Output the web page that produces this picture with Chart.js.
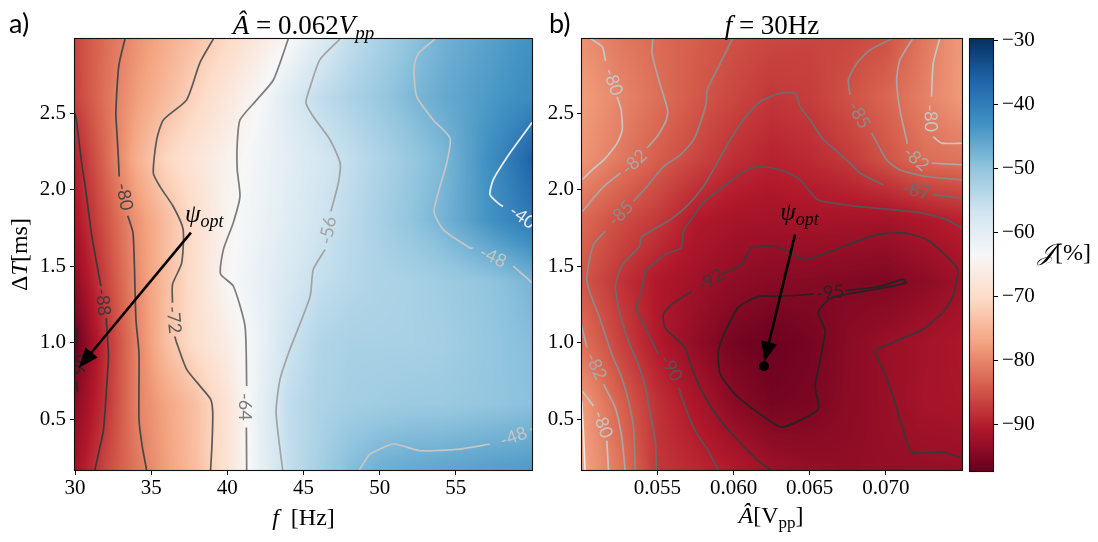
<!DOCTYPE html>
<html><head><meta charset="utf-8">
<script src="https://cdn.jsdelivr.net/npm/chart.js@4.4.1/dist/chart.umd.min.js"></script>
<style>
html,body{margin:0;padding:0;background:#fff;}
#wrap{position:relative;width:1098px;height:542px;overflow:hidden;background:#fff;}
canvas{position:absolute;top:0;}
#cL{left:0;} #cR{left:540px;} #cC{left:960px;}
</style></head><body>
<div id="wrap">
<canvas id="cL" width="560" height="542"></canvas>
<canvas id="cR" width="440" height="542"></canvas>
<canvas id="cC" width="138" height="542"></canvas>
</div>
<script>
// ---------------- DATA ----------------
// Panel a): J[%] over f [Hz] (columns) and dT [ms] (rows), A = 0.062 Vpp
const leftF  = [30,32,34,36,38,40,42,44,46,48,50,52,54,56,58,60];
const leftDT = [0.2,0.6,1.0,1.4,1.8,2.2,2.6,3.0];
const leftJ = [
 [-92.0,-86.2,-81.6,-77.5,-73.7,-68.3,-61.4,-55.4,-52.3,-49.2,-47.3,-46.5,-46.0,-45.5,-45.0,-44.5],
 [-94.0,-88.0,-80.7,-76.9,-73.5,-68.3,-61.1,-55.0,-53.0,-52.0,-51.5,-51.0,-51.0,-50.5,-50.0,-49.5],
 [-96.8,-88.4,-80.6,-73.7,-69.4,-66.0,-61.8,-56.5,-53.5,-52.5,-52.5,-52.5,-52.0,-51.0,-50.0,-49.0],
 [-93.6,-86.6,-79.7,-74.0,-68.8,-63.9,-61.0,-58.0,-55.5,-54.0,-53.0,-52.5,-51.5,-50.5,-49.5,-47.8],
 [-91.1,-85.0,-78.9,-74.0,-69.4,-64.4,-61.9,-59.4,-56.8,-54.5,-52.3,-50.0,-47.8,-45.0,-42.0,-39.5],
 [-89.7,-83.0,-75.9,-70.7,-67.8,-64.9,-62.3,-59.9,-57.5,-55.2,-53.0,-50.7,-48.5,-44.9,-41.0,-36.0],
 [-86.5,-82.0,-77.7,-74.3,-70.8,-67.3,-63.8,-58.9,-55.1,-52.9,-50.7,-48.4,-46.5,-45.0,-43.5,-42.0],
 [-86.0,-82.5,-79.0,-76.2,-73.4,-70.5,-67.3,-64.0,-59.3,-55.2,-52.6,-50.0,-47.5,-46.0,-44.5,-43.0]
];
// Panel b): J[%] over A [Vpp] (columns) and dT [ms] (rows), f = 30 Hz
const rightA  = [0.0500,0.0525,0.0550,0.0575,0.0600,0.0625,0.0650,0.0675,0.0700,0.0725,0.0750];
const rightDT = [0.2,0.6,1.0,1.4,1.8,2.2,2.6,3.0];
const rightJ = [
 [-77.0,-81.6,-87.6,-89.1,-90.7,-92.5,-93.2,-93.5,-93.2,-93.0,-92.8],
 [-77.8,-83.4,-88.1,-91.0,-94.0,-95.8,-95.4,-94.0,-92.9,-91.6,-91.3],
 [-82.0,-86.4,-90.4,-93.4,-95.8,-96.8,-95.8,-94.1,-92.8,-91.8,-91.0],
 [-84.5,-87.8,-90.6,-92.1,-93.5,-94.3,-94.4,-94.8,-95.0,-93.8,-92.3],
 [-82.8,-85.4,-87.3,-90.4,-91.5,-91.8,-91.5,-91.6,-91.8,-90.8,-89.6],
 [-78.5,-81.2,-83.9,-86.1,-88.3,-89.5,-88.8,-87.4,-85.0,-82.4,-81.8],
 [-77.5,-80.0,-82.2,-84.4,-86.1,-87.6,-87.0,-85.2,-83.2,-80.6,-78.0],
 [-79.0,-81.3,-82.7,-83.9,-85.1,-86.0,-86.3,-86.0,-85.2,-81.5,-78.0]
];
const colorRange = [-97.2, -29.8];
const leftXRange = [30, 60], dtRange = [0.167, 2.985], rightXRange = [0.05005, 0.075];

// tick values and labels
const leftXTicks = [30,35,40,45,50,55];
const leftXTickLabels = ['30','35','40','45','50','55'];
const dtTicks = [0.5,1.0,1.5,2.0,2.5];
const dtTickLabels = ['0.5','1.0','1.5','2.0','2.5'];
const rightXTicks = [0.055,0.060,0.065,0.070];
const rightXTickLabels = ['0.055','0.060','0.065','0.070'];
const cbTicks = [-90,-80,-70,-60,-50,-40,-30];
const cbTickLabels = ['\u221290','\u221280','\u221270','\u221260','\u221250','\u221240','\u221230'];

// optimum
const optimum = {f: 30, A: 0.062, dT: 0.845};

// contour lines, panel a) (f, dT), split where inline labels sit
const leftC96 = [[[30.17,1.10],[30.12,0.99]], [[30.1,0.75],[30.17,0.68]]];
const leftC88 = [[[30.0,2.50],[30.1,2.45],[30.4,2.2],[30.7,2.0],[31.1,1.7],[31.55,1.45],[31.7,1.37]],
  [[32.05,1.16],[32.15,1.0],[32.2,0.91],[32.05,0.67],[31.87,0.43],[31.6,0.3],[31.3,0.167]]];
const leftC80 = [[[33.28,2.985],[32.95,2.85],[32.84,2.78],[32.68,2.5],[32.74,2.39],[32.85,2.2],[32.9,2.086]],
  [[33.46,1.83],[33.8,1.72],[33.9,1.5],[34.0,1.15],[34.2,0.93],[34.2,0.5],[34.4,0.33],[34.7,0.167]]];
const leftC72 = [[[39.08,2.985],[38.2,2.83],[37.33,2.587],[35.8,2.456],[35.36,2.326],[35.14,2.109],[35.58,2.02],[36.45,1.89],[37.1,1.74],[37.0,1.52],[36.4,1.38],[36.4,1.26]],
  [[36.55,1.04],[36.67,1.0],[37.33,0.825],[38.2,0.717],[38.9,0.63],[39.04,0.543],[39.0,0.35],[38.9,0.167]]];
const leftC64 = [[[44.0,2.985],[43.02,2.717],[41.93,2.587],[40.83,2.456],[40.65,2.3],[40.65,2.13],[40.83,1.956],[40.39,1.784],[39.74,1.608],[39.55,1.45],[40.39,1.37],[41.16,1.108],[41.27,0.716]],
  [[41.25,0.445],[41.27,0.167]]];
const leftC56 = [[[47.4,2.985],[46.08,2.85],[45.43,2.67],[45.16,2.567],[45.64,2.478],[46.74,2.326],[47.4,2.176],[47.29,2.045],[46.8,1.858]],
  [[46.41,1.608],[45.64,1.478],[45.43,1.30],[44.11,0.956],[43.46,0.76],[43.2,0.543],[43.63,0.167]]];
const leftC48a = [[[53.63,2.985],[52.54,2.89],[52.25,2.80],[52.43,2.61],[53.52,2.456],[54.62,2.337],[54.4,2.174],[53.57,1.858],[54.18,1.739],[55.93,1.619],[56.15,1.619]],
  [[58.77,1.5],[59.76,1.413],[60,1.39]]];
const leftC48b = [[[57.24,0.337],[55.27,0.304],[52.65,0.293],[50.9,0.337],[49.37,0.271],[49.04,0.227],[48.66,0.167]],
  [[59.87,0.435],[60,0.43]]];
const leftC40 = [[[60,2.44],[59.82,2.413],[58.55,2.239],[57.46,2.065],[57.24,1.967],[57.9,1.902],[58.1,1.89]]];
// inline contour labels, panel a): f, dT, text, angle(deg)
const leftLabels = [
 [30.22,0.88,'-96',90],[31.9,1.265,'-88',84],[33.3,1.955,'-80',78],[36.55,1.15,'-72',84],
 [41.23,0.58,'-64',90],[46.55,1.735,'-56',-80],[57.46,1.565,'-48',25],[59.41,1.826,'-40',35],[58.77,0.39,'-48',-20]
];

// contour lines, panel b) (A, dT)
const rightC77 = [[[0.05003,0.62],[0.05015,0.40],[0.05025,0.167]]];
const rightC80 = [
  [[0.05058,2.99],[0.05138,2.934],[0.05159,2.84]],
  [[0.05236,2.608],[0.05262,2.522],[0.05269,2.391],[0.05236,2.304],[0.05148,2.195],[0.05072,2.130],[0.05007,2.065]],
  [[0.07355,2.99],[0.07311,2.826],[0.07300,2.608]],
  [[0.07311,2.347],[0.07366,2.304],[0.07500,2.304]],
  [[0.05005,0.684],[0.05081,0.586]],
  [[0.05168,0.358],[0.05179,0.167]]];
const rightC82 = [
  [[0.05470,2.99],[0.05465,2.891],[0.05509,2.717],[0.05567,2.522],[0.05559,2.456],[0.05498,2.347],[0.05432,2.272]],
  [[0.05258,2.109],[0.05148,2.021],[0.05007,1.858]],
  [[0.07178,2.99],[0.07092,2.848],[0.07071,2.717],[0.07092,2.522],[0.07136,2.326],[0.07140,2.30]],
  [[0.07300,2.174],[0.07485,2.163],[0.07500,2.163]],
  [[0.05000,1.119],[0.05037,0.967]],
  [[0.05146,0.728],[0.05223,0.575],[0.05266,0.380],[0.05288,0.167]]];
const rightC85 = [
  [[0.05995,2.99],[0.05891,2.783],[0.05826,2.652],[0.05821,2.567],[0.05782,2.435],[0.05738,2.326],[0.05651,2.228],[0.05541,2.152],[0.05432,2.021],[0.05343,1.924]],
  [[0.05157,1.728],[0.05081,1.641],[0.05048,1.510],[0.05037,1.402],[0.05069,1.293],[0.05113,1.184],[0.05157,1.054],[0.05201,0.923],[0.05266,0.771],[0.05310,0.619],[0.05343,0.445],[0.05354,0.167]],
  [[0.07047,2.99],[0.06896,2.913],[0.06809,2.826],[0.06754,2.717],[0.06765,2.619]],
  [[0.06907,2.370],[0.07005,2.195],[0.07092,2.130],[0.07267,2.086],[0.07485,2.065],[0.07500,2.065]]];
const rightC87 = [
  [[0.05493,0.167],[0.05487,0.356],[0.05454,0.532],[0.05421,0.708],[0.05375,0.858],[0.05310,1.008],[0.05244,1.230],[0.05225,1.380],[0.05271,1.510],[0.05382,1.628],[0.05395,1.687],[0.05474,1.739],[0.05585,1.804],[0.05696,1.896],[0.05801,2.019],[0.05893,2.176],[0.05978,2.326],[0.06064,2.456],[0.06175,2.576],[0.06306,2.630],[0.06404,2.630],[0.06437,2.543],[0.06503,2.456],[0.06590,2.326],[0.06655,2.272],[0.06765,2.174],[0.06830,2.109],[0.06983,2.032]],
  [[0.07311,1.967],[0.07485,1.946],[0.07500,1.945]]];
const rightC90 = [
  [[0.07500,1.752],[0.07485,1.758],[0.07400,1.804],[0.07223,1.850],[0.07047,1.869],[0.06830,1.889],[0.06719,1.902],[0.06549,1.935],[0.06437,2.065],[0.06306,2.130],[0.06241,2.143],[0.06155,2.150],[0.06064,2.117],[0.05933,2.019],[0.05801,1.915],[0.05736,1.824],[0.05670,1.726],[0.05657,1.621],[0.05552,1.576],[0.05421,1.465],[0.05395,1.334],[0.05362,1.230],[0.05375,1.184],[0.05441,1.054],[0.05507,0.923]],
  [[0.05638,0.708],[0.05683,0.578],[0.05749,0.421],[0.05834,0.291],[0.05900,0.167]]];
const rightC92 = [
  [[0.06245,0.167],[0.06162,0.227],[0.06031,0.358],[0.05900,0.510],[0.05790,0.684],[0.05725,0.837],[0.05682,0.967],[0.05616,1.032],[0.05550,1.098],[0.05539,1.184],[0.05594,1.250],[0.05725,1.336]],
  [[0.05917,1.445],[0.06052,1.510],[0.06118,1.619],[0.06249,1.630],[0.06358,1.597],[0.06457,1.543],[0.06614,1.587],[0.06784,1.652],[0.06942,1.706],[0.07112,1.717],[0.07269,1.674],[0.07400,1.563],[0.07472,1.478],[0.07440,1.302],[0.07374,1.197],[0.07243,1.087],[0.07092,1.021],[0.06942,0.956],[0.06929,0.937],[0.07007,0.760],[0.07073,0.565],[0.07112,0.434],[0.07171,0.284],[0.07368,0.284],[0.07485,0.251],[0.07500,0.245]]];
const rightC95 = [
  [[0.06732,1.341],[0.06962,1.367],[0.07112,1.413],[0.07132,1.390],[0.06962,1.354],[0.06732,1.315],[0.06634,1.289],[0.06555,1.197],[0.06601,1.073],[0.06536,0.715],[0.06555,0.565],[0.06319,0.447],[0.06175,0.532],[0.06011,0.662],[0.05913,0.793],[0.05900,0.943],[0.05946,1.073],[0.06031,1.230],[0.06162,1.302],[0.06293,1.302],[0.06404,1.308],[0.06529,1.318]]];
const rightLabels = [
 [0.05214,2.706,'-80',71],[0.07300,2.467,'-80',88],[0.05146,0.467,'-80',69],
 [0.05345,2.185,'-82',-43],[0.07202,2.206,'-82',41],[0.05102,0.847,'-82',65],
 [0.05255,1.848,'-85',-45],[0.06830,2.489,'-85',61],
 [0.07202,2.0,'-87',11],[0.05594,0.837,'-90',59],[0.05847,1.413,'-92',-32],[0.06634,1.334,'-95',-6]
];

// ---------------- RENDERING ----------------
const SERIF = '"Liberation Serif","DejaVu Serif",serif';
const SANS = 'Lato,"Open Sans","DejaVu Sans",sans-serif';
const RDBU = [[103,0,31],[178,24,43],[214,96,77],[244,165,130],[253,219,199],[247,247,247],[209,229,240],[146,197,222],[67,147,195],[33,102,172],[5,48,97]];
function cmap(v){
  let t = (v - colorRange[0])/(colorRange[1]-colorRange[0]);
  t = Math.max(0, Math.min(1, t))*10;
  let i = Math.floor(t); if (i > 9) i = 9;
  const u = t - i, a = RDBU[i], b = RDBU[i+1];
  return [a[0]+(b[0]-a[0])*u, a[1]+(b[1]-a[1])*u, a[2]+(b[2]-a[2])*u];
}
function segIndex(arr, v){ let i = 0; while (i < arr.length-2 && v > arr[i+1]) i++; return i; }
function sampleGrid(xs, ys, vals, xv, yv){
  const i = segIndex(xs, xv), j = segIndex(ys, yv);
  const tx = Math.max(0, Math.min(1, (xv-xs[i])/(xs[i+1]-xs[i])));
  const ty = Math.max(0, Math.min(1, (yv-ys[j])/(ys[j+1]-ys[j])));
  const a = vals[j][i]*(1-tx)+vals[j][i+1]*tx, b = vals[j+1][i]*(1-tx)+vals[j+1][i+1]*tx;
  return a*(1-ty)+b*ty;
}
function heatPlugin(xs, ys, vals){
  return {id:'heat', beforeDatasetsDraw(chart){
    const {ctx, chartArea:a, scales} = chart;
    const w = Math.round(a.right-a.left), h = Math.round(a.bottom-a.top);
    const off = document.createElement('canvas'); off.width = w; off.height = h;
    const octx = off.getContext('2d'); const img = octx.createImageData(w, h);
    const xv = []; for (let px=0; px<w; px++) xv.push(scales.x.getValueForPixel(a.left+px+0.5));
    for (let py=0; py<h; py++){
      const yv = scales.y.getValueForPixel(a.top+py+0.5);
      for (let px=0; px<w; px++){
        const c = cmap(sampleGrid(xs, ys, vals, xv[px], yv));
        const k = (py*w+px)*4; img.data[k]=c[0]; img.data[k+1]=c[1]; img.data[k+2]=c[2]; img.data[k+3]=255;
      }
    }
    octx.putImageData(img, 0, 0);
    ctx.drawImage(off, a.left, a.top);
  }};
}
const leftGray = {'-96':'#262626','-88':'#3a3a3a','-80':'#474747','-72':'#595959','-64':'#7c7c7c','-56':'#a2a2a2','-48':'#c6c6c6','-40':'#eeeeee'};
const rightGray = {'-95':'#242424','-92':'#383838','-90':'#555555','-87':'#6c6c6c','-85':'#8a8a8a','-82':'#a8a8a8','-80':'#c6c6c6','-77':'#ececec'};
function contourSets(list, colors){
  const ds = [];
  list.forEach(([lvl, segs]) => segs.forEach(seg => ds.push({
    data: seg.map(p => ({x:p[0], y:p[1]})), showLine:true, borderColor: colors[lvl], borderWidth:1.7,
    pointRadius:0, pointHoverRadius:0, tension:0.2, fill:false, borderJoinStyle:'round'
  })));
  return ds;
}
function labelPlugin(labels, colors){
  return {id:'clabels', afterDatasetsDraw(chart){
    const {ctx, chartArea:a, scales} = chart;
    ctx.save(); ctx.beginPath(); ctx.rect(a.left, a.top, a.right-a.left, a.bottom-a.top); ctx.clip();
    ctx.font = '18px ' + SANS; ctx.textAlign='center'; ctx.textBaseline='middle';
    labels.forEach(([x,y,t,ang]) => {
      ctx.save(); ctx.translate(scales.x.getPixelForValue(x), scales.y.getPixelForValue(y));
      ctx.rotate(ang*Math.PI/180); ctx.fillStyle = colors[t]; ctx.fillText(t, 0, 1); ctx.restore();
    });
    ctx.restore();
  }};
}
function drawRich(ctx, runs, x, y, align, rot){
  ctx.save(); ctx.translate(x, y); if (rot) ctx.rotate(rot);
  let total = 0; runs.forEach(r => { ctx.font = r.f; r.w = ctx.measureText(r.t).width; total += r.w; });
  let cx = align === 'center' ? -total/2 : (align === 'right' ? -total : 0);
  ctx.fillStyle = '#000'; ctx.textAlign = 'left'; ctx.textBaseline = 'alphabetic';
  runs.forEach(r => { ctx.font = r.f; ctx.fillText(r.t, cx, r.dy || 0); cx += r.w; });
  ctx.restore();
}
function arrow(ctx, x0, y0, x1, y1){
  const dx = x1-x0, dy = y1-y0, L = Math.hypot(dx, dy), ux = dx/L, uy = dy/L;
  const hl = 20, hw = 8, bx = x1-ux*hl, by = y1-uy*hl;
  ctx.strokeStyle = '#000'; ctx.lineWidth = 2.6; ctx.beginPath(); ctx.moveTo(x0, y0); ctx.lineTo(bx+ux*2, by+uy*2); ctx.stroke();
  ctx.fillStyle = '#000'; ctx.beginPath(); ctx.moveTo(x1, y1); ctx.lineTo(bx - uy*hw, by + ux*hw); ctx.lineTo(bx + uy*hw, by - ux*hw); ctx.closePath(); ctx.fill();
}
function psiOpt(ctx, x, y){
  drawRich(ctx, [{t:'\u03C8', f:'italic 25px '+SERIF}, {t:'opt', f:'italic 18px '+SERIF, dy:5}], x, y, 'left');
}
const framePlugin = {id:'frame', afterDraw(chart){
  const {ctx, chartArea:a} = chart; ctx.save(); ctx.strokeStyle = '#111'; ctx.lineWidth = 1.1;
  ctx.strokeRect(a.left-0.5, a.top-0.5, a.right-a.left+1, a.bottom-a.top+1); ctx.restore();
}};
function axis(range, ticks, labels, pos, size, pad){
  return {type:'linear', position:pos, min:range[0], max:range[1],
    afterBuildTicks: s => { s.ticks = ticks.map(v => ({value:v})); },
    afterFit: s => { if (s.isHorizontal()) s.height = size; else s.width = size; },
    ticks:{callback:(v,i)=>labels[i], font:{family:SERIF, size:21}, color:'#000', padding:pad, autoSkip:false, maxRotation:0, minRotation:0},
    grid:{display:true, drawOnChartArea:false, drawTicks:true, tickLength:5, tickWidth:1, tickColor:'#000', color:'#000'},
    border:{display:false}};
}
const common = {responsive:false, animation:false, events:[], plugins:{legend:{display:false}, tooltip:{enabled:false}}};

// ---- panel a)
new Chart(document.getElementById('cL'), {
  type:'scatter',
  data:{datasets: contourSets([['-96',leftC96],['-88',leftC88],['-80',leftC80],['-72',leftC72],['-64',leftC64],['-56',leftC56],['-48',leftC48a],['-48',leftC48b],['-40',leftC40]], leftGray)},
  options:Object.assign({}, common, {layout:{autoPadding:false, padding:{left:35, right:28, top:39, bottom:32}},
    scales:{x:axis(leftXRange, leftXTicks, leftXTickLabels, 'bottom', 40, 1), y:axis(dtRange, dtTicks, dtTickLabels, 'left', 40, 4)}}),
  plugins:[heatPlugin(leftF, leftDT, leftJ), labelPlugin(leftLabels, leftGray), framePlugin, {id:'annA', afterDraw(chart){
    const {ctx, scales:{x,y}} = chart;
    psiOpt(ctx, x.getPixelForValue(37.22), y.getPixelForValue(1.791));
    arrow(ctx, x.getPixelForValue(37.61), y.getPixelForValue(1.719), x.getPixelForValue(optimum.f+0.25), y.getPixelForValue(optimum.dT-0.01));
    drawRich(ctx, [{t:'a)', f:'27px '+SANS}], 9, 33, 'left');
    drawRich(ctx, [{t:'\u00C2', f:'italic 27px '+SERIF}, {t:' = 0.062', f:'27px '+SERIF}, {t:'V', f:'italic 27px '+SERIF}, {t:'pp', f:'italic 19px '+SERIF, dy:5}], 303.5, 34, 'center');
    drawRich(ctx, [{t:'f', f:'italic 24px '+SERIF}, {t:'\u2002[Hz]', f:'24px '+SERIF}], 303.5, 525, 'center');
    drawRich(ctx, [{t:'\u0394', f:'24px '+SERIF}, {t:'T', f:'italic 24px '+SERIF}, {t:'[ms]', f:'24px '+SERIF}], 27, 254.5, 'center', -Math.PI/2);
  }}]
});

// ---- panel b)
new Chart(document.getElementById('cR'), {
  type:'scatter',
  data:{datasets: contourSets([['-77',rightC77],['-80',rightC80],['-82',rightC82],['-85',rightC85],['-87',rightC87],['-90',rightC90],['-92',rightC92],['-95',rightC95]], rightGray)},
  options:Object.assign({}, common, {layout:{autoPadding:false, padding:{left:6, right:18, top:39, bottom:32}},
    scales:{x:axis(rightXRange, rightXTicks, rightXTickLabels, 'bottom', 40, 1), y:axis(dtRange, dtTicks, dtTickLabels, 'left', 36, 3)}}),
  plugins:[heatPlugin(rightA, rightDT, rightJ), labelPlugin(rightLabels, rightGray), framePlugin, {id:'annB', afterDraw(chart){
    const {ctx, scales:{x,y}} = chart;
    psiOpt(ctx, x.getPixelForValue(0.06306), y.getPixelForValue(1.804));
    arrow(ctx, x.getPixelForValue(0.06404), y.getPixelForValue(1.706), x.getPixelForValue(optimum.A+0.00002), y.getPixelForValue(optimum.dT+0.03));
    ctx.fillStyle = '#000'; ctx.beginPath(); ctx.arc(x.getPixelForValue(optimum.A), y.getPixelForValue(optimum.dT), 5, 0, 2*Math.PI); ctx.fill();
    drawRich(ctx, [{t:'b)', f:'27px '+SANS}], 9, 33, 'left');
    drawRich(ctx, [{t:'f', f:'italic 27px '+SERIF}, {t:' = 30Hz', f:'27px '+SERIF}], 232, 34, 'center');
    drawRich(ctx, [{t:'\u00C2', f:'italic 24px '+SERIF}, {t:'[V', f:'24px '+SERIF}, {t:'pp', f:'17px '+SERIF, dy:5}, {t:']', f:'24px '+SERIF}], 231, 523, 'center');
  }}]
});

// ---- colorbar
new Chart(document.getElementById('cC'), {
  type:'scatter', data:{datasets:[{data:[]}]},
  options:Object.assign({}, common, {layout:{autoPadding:false, padding:{left:10, right:45, top:39, bottom:71}},
    scales:{x:{type:'linear', display:false, min:0, max:1}, y:axis(colorRange, cbTicks, cbTickLabels, 'right', 60, 4)}}),
  plugins:[{id:'cbar', beforeDatasetsDraw(chart){
    const {ctx, chartArea:a, scales:{y}} = chart;
    for (let py = Math.round(a.top); py < Math.round(a.bottom); py++){
      const c = cmap(y.getValueForPixel(py+0.5));
      ctx.fillStyle = 'rgb('+c.map(Math.round).join(',')+')'; ctx.fillRect(a.left, py, a.right-a.left, 1);
    }
  }}, framePlugin, {id:'cblabel', afterDraw(chart){
    drawRich(chart.ctx, [{t:'\uD835\uDCA5', f:'italic 24px "DejaVu Serif","DejaVu Sans",serif'}, {t:'[%]', f:'24px '+SERIF}], 78, 260, 'left');
  }}]
});
</script>
</body></html>
